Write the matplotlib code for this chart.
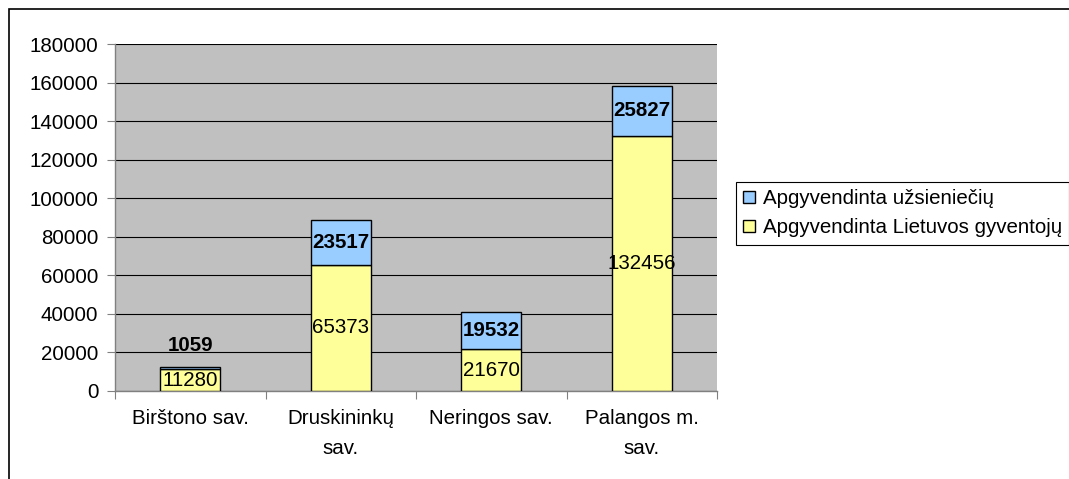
import matplotlib
matplotlib.use("Agg")
import matplotlib.pyplot as plt
from matplotlib.patches import Rectangle
import numpy as np

categories = ["Birštono sav.", "Druskininkų\nsav.", "Neringos sav.", "Palangos m.\nsav."]
lietuvos = [11280, 65373, 21670, 132456]
uzsienieciu = [1059, 23517, 19532, 25827]
series_names = ["Apgyvendinta užsieniečių", "Apgyvendinta Lietuvos gyventojų"]
yticks = list(range(0, 180001, 20000))

plt.rcParams['font.family'] = ['Liberation Sans', 'DejaVu Sans']
FS = 14.8

fig = plt.figure(figsize=(10.69, 4.79), dpi=100)
ax = fig.add_axes([115/1069, 1-391/479, (717-115)/1069, (391-44)/479])
ax.set_facecolor('#C0C0C0')

x = np.arange(len(categories))
w = 0.4
b1 = ax.bar(x, lietuvos, w, color='#FFFF99', edgecolor='black', linewidth=1, zorder=3,
            label=series_names[1])
b2 = ax.bar(x, uzsienieciu, w, bottom=lietuvos, color='#99CCFF', edgecolor='black',
            linewidth=1, zorder=3, label=series_names[0])

for i in range(len(categories)):
    ax.text(x[i], lietuvos[i]/2, str(lietuvos[i]), ha='center', va='center',
            fontsize=FS, zorder=4)
    top = lietuvos[i] + uzsienieciu[i]
    if uzsienieciu[i] < 8000:
        ax.annotate(str(uzsienieciu[i]), (x[i], top), xytext=(0, 9), textcoords='offset points',
                    ha='center', va='bottom', fontsize=FS, fontweight='bold', zorder=4)
    else:
        ax.text(x[i], lietuvos[i] + uzsienieciu[i]/2, str(uzsienieciu[i]), ha='center',
                va='center', fontsize=FS, fontweight='bold', zorder=4)

ax.set_xlim(-0.5, len(categories)-0.5)
ax.set_ylim(0, 180000)
ax.set_yticks(yticks)
ax.set_yticklabels([str(v) for v in yticks], fontsize=FS)
ax.yaxis.grid(True, color='black', linewidth=0.8, zorder=1)
ax.set_axisbelow(True)

ax.set_xticks(np.arange(-0.5, len(categories)+0.5, 1))
ax.set_xticklabels([])
ax.set_xticks(x, minor=True)
ax.set_xticklabels(categories, minor=True, fontsize=FS, linespacing=1.75)
ax.tick_params(axis='x', which='minor', length=0, pad=13)
ax.tick_params(axis='x', which='major', length=6, direction='out', color='#808080')
ax.tick_params(axis='y', length=6, direction='out', color='#808080', pad=6)

for s in ['top', 'right']:
    ax.spines[s].set_visible(False)
for s in ['left', 'bottom']:
    ax.spines[s].set_color('#808080')
    ax.spines[s].set_linewidth(1)

handles = [b2, b1]
leg = fig.legend(handles, series_names, loc='upper left',
                 bbox_to_anchor=(736/1069, 1-182/479), fontsize=FS, frameon=True,
                 fancybox=False, shadow=False, edgecolor='black', framealpha=1,
                 handlelength=0.55, handleheight=0.55, handletextpad=0.4,
                 borderpad=0.35, labelspacing=0.5, borderaxespad=0)
leg.get_frame().set_linewidth(0.8)

fig.patches.append(Rectangle((9/1069, -0.1), 1.2, 1.1 - 9/479, transform=fig.transFigure,
                             fill=False, edgecolor='black', linewidth=1.2))

fig.savefig('out.png', dpi=100)
